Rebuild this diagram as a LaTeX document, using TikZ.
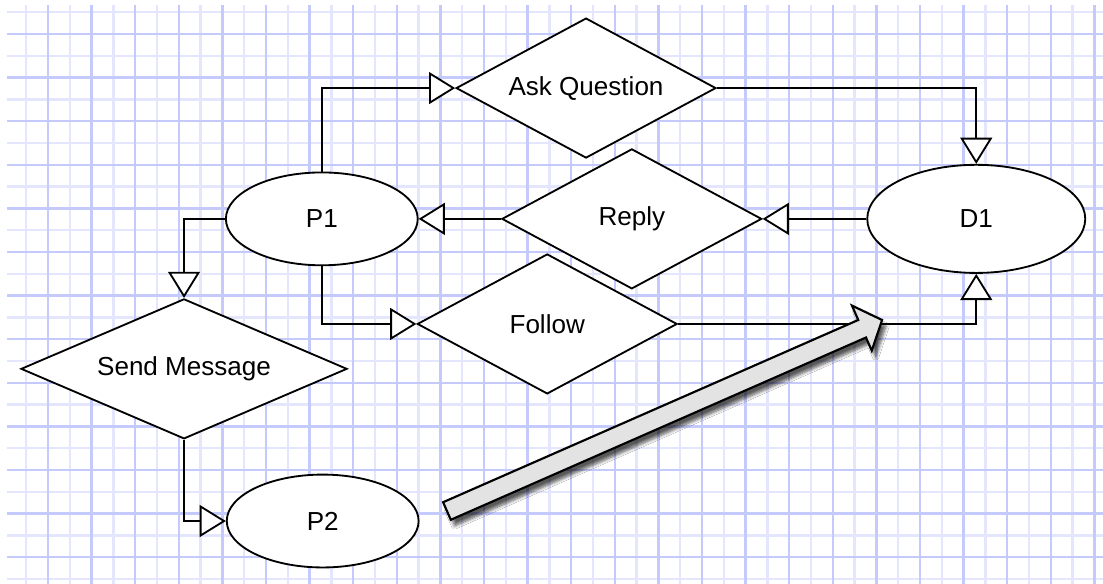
\documentclass[tikz,border=0pt]{standalone}
\usepackage{fontspec}
\setmainfont{Liberation Sans}
\usetikzlibrary{shapes.geometric, arrows.meta, shadows.blur}
\definecolor{gridmaj}{RGB}{196,202,252}
\definecolor{gridmin}{RGB}{227,230,253}
\tikzset{
	every node/.style = {font = \fontsize{17}{20}\selectfont},
	oval/.style = {ellipse, draw = black, fill = white, line width = 1.2pt, inner sep = 0pt,
		minimum width = 4.4cm, minimum height = 2.13cm},
	choice/.style = {diamond, draw = black, fill = white, line width = 1.2pt, inner sep = 0pt,
		shape aspect = 2, minimum width = 5.96cm, minimum height = 3.21cm},
	flow/.style = {line width = 1.2pt, -{Triangle[length = 0.6cm, width = 0.73cm, fill = white]}},
	bigarrow/.style = {draw = black, fill = gray!22, line width = 1.4pt, line join = miter,
		blur shadow = {shadow xshift = 0.09cm, shadow yshift = -0.14cm, shadow opacity = 65, shadow blur steps = 6}}
}

\begin{document}
\begin{tikzpicture}
		\useasboundingbox [fill = white] (-0.101, -0.592) rectangle (25.197, 12.780);
		% 网格
		\begin{scope}
			\clip (0.06, -0.592) rectangle (25.197, 12.665);
			\draw [gridmin, line width = 1.5pt, step = 0.5] (-1, -1) grid (26, 13);
			\draw [gridmaj, line width = 1.5pt, step = 1] (-1, -1) grid (26, 13);
		\end{scope}
		% 节点
		\node (p1) [oval] at (7.28, 7.76) {P1};
		\node (p2) [oval] at (7.30, 0.83) {P2};
		\node (d1) [oval, minimum width = 5.0cm, minimum height = 2.48cm] at (22.29, 7.76) {D1};
		\node (ask) [choice] at (13.34, 10.76) {Ask Question};
		\node (reply) [choice] at (14.39, 7.76) {Reply};
		\node (follow) [choice] at (12.45, 5.35) {Follow};
		\node (send) [choice, minimum width = 7.48cm] at (4.12, 4.32) {Send Message};
		% 连线
		\draw [flow] (p1.north) |- (ask.west);
		\draw [flow] (ask.east) -| (d1.north);
		\draw [flow] (d1.west) -- (reply.east);
		\draw [flow] (reply.west) -- (p1.east);
		\draw [flow] (p1.west) -| (send.north);
		\draw [flow] (p1.south) |- (follow.west);
		\draw [flow] (follow.east) -| (d1.south);
		\draw [flow] (send.south) |- (p2.west);
		% 大箭头
		\coordinate (tail) at (10.15, 1.06);
		\begin{scope}[shift = {(tail)}, rotate = 23.7]
			\draw [bigarrow] (0, -0.22) -- (10.4, -0.22) -- (10.4, -0.55) -- (10.9, 0) --
			(10.4, 0.58) -- (10.4, 0.22) -- (0, 0.22) -- cycle;
		\end{scope}
	\end{tikzpicture}
\end{document}
